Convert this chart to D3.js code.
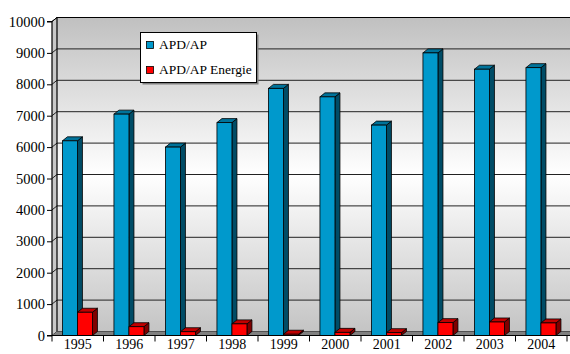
<!DOCTYPE html>
<html><head><meta charset="utf-8">
<script src="https://cdn.jsdelivr.net/npm/d3@7/dist/d3.min.js"></script>
<style>
html,body{margin:0;padding:0;background:#fff;}
svg{display:block;}
</style></head>
<body><svg id="c" width="570" height="354"></svg>
<script>
const years = ["1995","1996","1997","1998","1999","2000","2001","2002","2003","2004"];
const apd = [6200, 7050, 6000, 6780, 7870, 7600, 6700, 9000, 8480, 8530];
const energie = [740, 280, 120, 370, 40, 100, 90, 410, 430, 400];
const yTicks = [0,1000,2000,3000,4000,5000,6000,7000,8000,9000,10000];
const seriesNames = ["APD/AP", "APD/AP Energie"];
const seriesColors = [
  {front:"#0099CC", top:"#00739A", side:"#004C66"},
  {front:"#FF0000", top:"#C00000", side:"#800000"}
];

(function(){
const FONT = "Liberation Serif";
const svg = d3.select("#c").attr("font-family", FONT);
const dx = 5, dy = -4;
const pL = 52, pR = 567, pT = 21.5, pB = 335.5;

const x = d3.scaleBand().domain(years).range([pL, pR]).padding(0);
const y = d3.scaleLinear().domain([0, 10000]).range([pB, pT]);

const defs = svg.append("defs");
const g1 = defs.append("linearGradient").attr("id","wall").attr("x1",0).attr("y1",0).attr("x2",0).attr("y2",1);
g1.append("stop").attr("offset","0%").attr("stop-color","#c0c0c0");
g1.append("stop").attr("offset","50%").attr("stop-color","#ffffff");
g1.append("stop").attr("offset","100%").attr("stop-color","#c4c4c4");

// back wall
svg.append("rect").attr("x", pL+dx).attr("y", pT+dy).attr("width", pR-pL+10).attr("height", pB-pT)
  .attr("fill","url(#wall)");
// side wall
svg.append("path").attr("d", `M${pL},${pT}L${pL+dx},${pT+dy}L${pL+dx},${pB+dy}L${pL},${pB}Z`)
  .attr("fill","#c8c8c8").attr("stroke","none");

// gridlines on back wall and side wall
svg.append("g").selectAll("path").data(yTicks).join("path")
  .attr("d", d => `M${pL},${y(d)}L${pL+dx},${y(d)+dy}L${pR+dx+10},${y(d)+dy}`)
  .attr("fill","none").attr("stroke","#222").attr("stroke-width",1);

// top border of back wall & left edge
svg.append("path").attr("d", `M${pL+dx},${pB+dy}L${pL+dx},${pT+dy}L${pR+dx+10},${pT+dy}`)
  .attr("fill","none").attr("stroke","#000").attr("stroke-width",1.2);
svg.append("path").attr("d", `M${pL},${pT}L${pL+dx},${pT+dy}`)
  .attr("fill","none").attr("stroke","#000").attr("stroke-width",1);

// floor
svg.append("path").attr("d", `M${pL},${pB}L${pL+dx},${pB+dy}L${pR+dx+10},${pB+dy}L${pR+10},${pB}Z`)
  .attr("fill","#808080").attr("stroke","none");

// bars
const bw = 15;
function bar(g, x0, v, c) {
  const y0 = y(0), yv = y(v);
  g.append("path").attr("d", `M${x0+bw},${yv}L${x0+bw+dx},${yv+dy}L${x0+bw+dx},${y0+dy}L${x0+bw},${y0}Z`)
    .attr("fill", c.side).attr("stroke","#000").attr("stroke-width",0.8).attr("stroke-linejoin","round");
  g.append("path").attr("d", `M${x0},${yv}L${x0+dx},${yv+dy}L${x0+bw+dx},${yv+dy}L${x0+bw},${yv}Z`)
    .attr("fill", c.top).attr("stroke","#000").attr("stroke-width",0.8).attr("stroke-linejoin","round");
  g.append("rect").attr("x", x0).attr("y", yv).attr("width", bw).attr("height", y0-yv)
    .attr("fill", c.front).attr("stroke","#000").attr("stroke-width",0.8);
}
const bars = svg.append("g");
years.forEach((yr, i) => {
  const cx = x(yr) + x.bandwidth()/2;
  bar(bars, cx - bw - 0.3, apd[i], seriesColors[0]);
  bar(bars, cx - 0.3, energie[i], seriesColors[1]);
});

// y axis
const yAxis = d3.axisLeft(y).tickValues(yTicks).tickSize(5).tickPadding(2).tickFormat(d3.format("d"));
const ya = svg.append("g").attr("transform", `translate(${pL},0)`).call(yAxis)
  .attr("font-family", FONT).attr("font-size", 14.5);
ya.select(".domain").attr("stroke","#000").attr("stroke-width",1.2).attr("d", `M-5,${pT}H0V${pB}H-5`);
ya.selectAll(".tick line").attr("stroke","#000");
ya.selectAll("text").attr("fill","#000");

// x axis
const xAxis = d3.axisBottom(x).tickSize(0).tickPadding(4);
const xa = svg.append("g").attr("transform", `translate(0,${pB})`).call(xAxis)
  .attr("font-family", FONT).attr("font-size", 14);
xa.select(".domain").attr("stroke","#000").attr("stroke-width",1.2).attr("d", `M${pL},0H${pR+10}`);
xa.selectAll("text").attr("fill","#000").attr("dy","0.71em");
const bounds = years.map(d => x(d)).concat([pR]);
xa.append("g").selectAll("line").data(bounds).join("line")
  .attr("x1", d => d).attr("x2", d => d).attr("y1", 0).attr("y2", 6)
  .attr("stroke","#000").attr("stroke-width",1);

// legend
const lg = svg.append("g").attr("transform","translate(140.5,32.5)").attr("font-family", FONT);
lg.append("rect").attr("x",2).attr("y",2).attr("width",116).attr("height",50).attr("fill","#808080");
lg.append("rect").attr("width",116).attr("height",50).attr("fill","#fff").attr("stroke","#000").attr("stroke-width",1);
seriesNames.forEach((n, i) => {
  const yy = 9 + i*25;
  lg.append("rect").attr("x",6).attr("y",yy).attr("width",7).attr("height",7)
    .attr("fill", seriesColors[i].front).attr("stroke","#000").attr("stroke-width",0.8);
  lg.append("text").attr("x",18.5).attr("y",yy+7.3).attr("font-size",13.5).attr("fill","#000").text(n);
});
})();
</script></body></html>
